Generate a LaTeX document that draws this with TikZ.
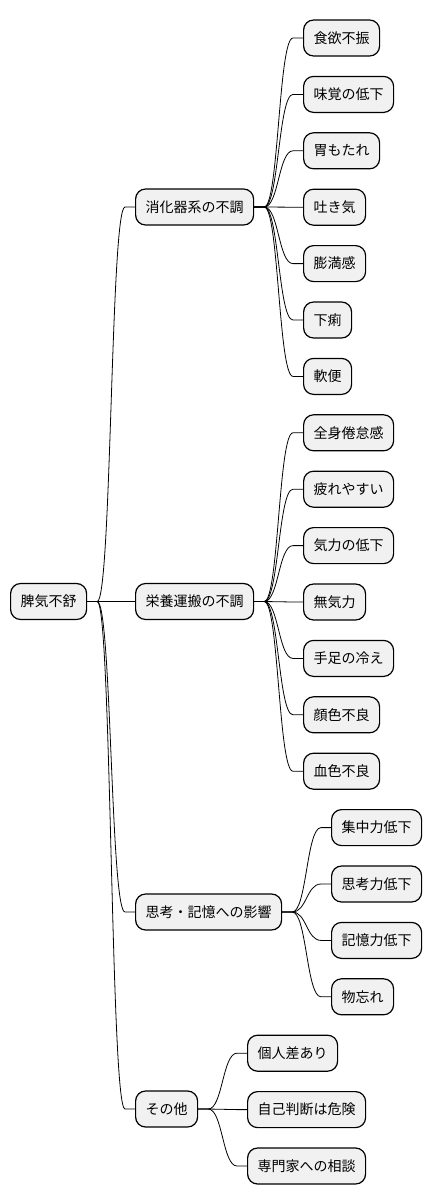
\documentclass[tikz,border=0pt]{standalone}
\usepackage{fontspec}
\setmainfont{Noto Sans CJK JP}
\usepackage{xcolor}
\usepackage{tikz}
\usetikzlibrary{calc}

\definecolor{boxfill}{HTML}{F1F1F1}
\tikzset{
  box/.style={draw=black, fill=boxfill, line width=1.2pt, rounded corners=10pt,
    minimum height=36pt, inner xsep=10pt, inner ysep=0pt, anchor=west,
    font=\fontsize{14pt}{17pt}\selectfont},
  link/.style={line width=0.8pt,
    to path={-- ++(10pt,0) .. controls +(14.5pt,0) and +(-14.5pt,0) .. ($(\tikztotarget)+(-10pt,0)$) -- (\tikztotarget)}}
}

\begin{document}
\begin{tikzpicture}
\useasboundingbox (0,0) rectangle (432pt,-1203pt);

\node[box] (root) at (10pt,-601.5pt) {脾気不舒};

\node[box] (digest) at (135pt,-207pt) {消化器系の不調};
\node[box] (nutri) at (135pt,-601.5pt) {栄養運搬の不調};
\node[box] (mind) at (135pt,-912pt) {思考・記憶への影響};
\node[box] (other) at (135pt,-1109pt) {その他};

\foreach \t [count=\i] in {食欲不振,味覚の低下,胃もたれ,吐き気,膨満感,下痢,軟便}
  \node[box] (d\i) at (303pt,{-38pt-56.4pt*(\i-1)}) {\t};
\foreach \t [count=\i] in {全身倦怠感,疲れやすい,気力の低下,無気力,手足の冷え,顔色不良,血色不良}
  \node[box] (n\i) at (303pt,{-38pt-56.4pt*(\i+6)}) {\t};
\foreach \t [count=\i] in {集中力低下,思考力低下,記憶力低下,物忘れ}
  \node[box] (m\i) at (331pt,{-38pt-56.4pt*(\i+13)}) {\t};
\foreach \t [count=\i] in {個人差あり,自己判断は危険,専門家への相談}
  \node[box] (o\i) at (247pt,{-38pt-56.4pt*(\i+17)}) {\t};

% connectors
\foreach \c in {digest,nutri,mind,other}
  \draw[link] (root.east) to (\c.west);
\foreach \i in {1,...,7} {
  \draw[link] (digest.east) to (d\i.west);
  \draw[link] (nutri.east) to (n\i.west);
}
\foreach \i in {1,...,4}
  \draw[link] (mind.east) to (m\i.west);
\foreach \i in {1,...,3}
  \draw[link] (other.east) to (o\i.west);
\end{tikzpicture}
\end{document}
